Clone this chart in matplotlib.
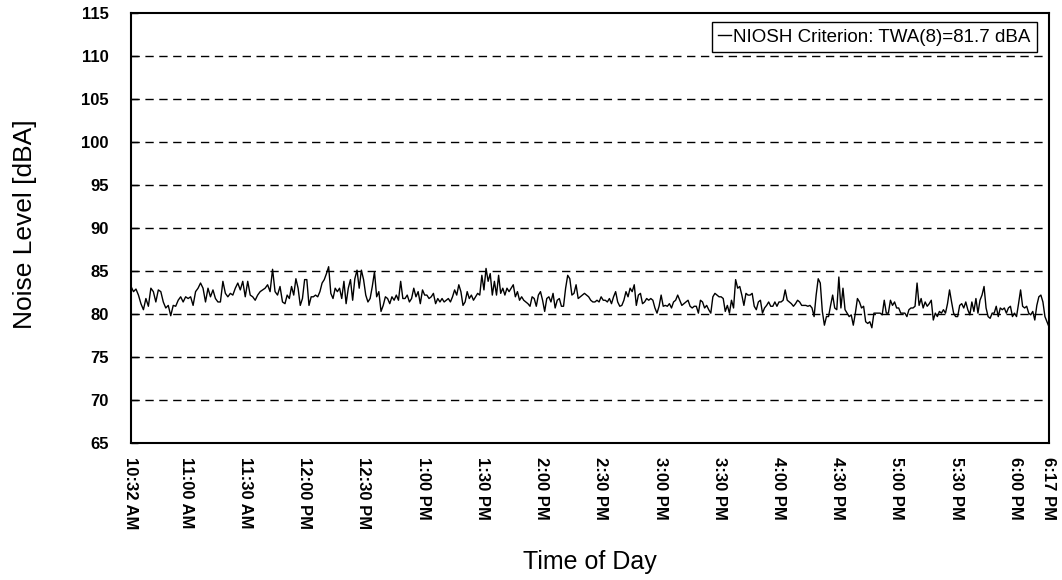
import numpy as np
import matplotlib
matplotlib.use('Agg')
from matplotlib import pyplot as plt

# noise readings (dBA) in six consecutive stretches
seg1 = [83.2, 82.6, 82.9, 82.2, 81.2, 80.5, 81.8, 80.9, 83.0, 82.6, 81.4, 82.8, 82.6, 81.4, 80.7,
        81.0, 79.8, 81.0, 80.9, 81.6, 82.0, 81.4, 82.0, 81.8, 82.0, 81.0, 82.6, 83.0, 83.6, 83.0,
        81.4, 83.0, 82.0, 82.8, 81.8, 81.4, 81.4, 83.8, 82.4, 82.0, 82.4, 82.2, 83.0, 83.6, 82.8,
        83.8, 82.0, 83.8, 82.2, 82.0, 81.6, 82.2, 82.6, 82.8, 83.0, 83.4, 82.6, 85.2, 82.6, 82.2,
        83.2, 81.4]
seg2 = [81.2, 82.2, 81.8, 83.2, 82.2, 84.1, 83.0, 81.0, 81.8, 84.0, 84.0, 81.0, 82.0, 82.0, 82.2,
        82.0, 82.6, 83.6, 84.0, 84.7, 85.5, 82.4, 81.8, 83.0, 82.6, 83.0, 81.8, 83.8, 81.2, 83.0,
        84.0, 81.6, 84.1, 85.1, 83.0, 85.1, 84.0, 82.2, 81.4, 81.8, 83.2, 84.9, 82.0, 82.6, 80.3,
        81.0, 82.0, 81.8, 81.2, 82.0, 81.6, 82.2, 81.6, 83.8, 81.8, 81.8, 82.2, 81.4, 81.8, 83.0,
        82.0, 82.6, 81.2, 82.8, 82.2, 82.2, 81.8, 82.0, 82.4, 81.2, 81.8]
seg3 = [81.4, 81.8, 81.4, 81.6, 81.8, 81.4, 82.0, 82.8, 82.2, 83.4, 82.6, 81.0, 81.4, 82.6, 81.8,
        82.2, 81.6, 82.0, 82.4, 82.2, 84.5, 82.8, 85.3, 83.8, 84.7, 82.2, 83.8, 82.2, 84.5, 82.4,
        83.0, 82.2, 83.0, 82.6, 83.0, 83.4, 82.0, 82.6, 81.6, 82.0, 81.6, 81.4, 81.2, 80.9, 82.0,
        81.8, 80.9, 82.2, 82.6, 81.6, 80.3, 81.8, 82.0, 81.4, 82.4, 80.7, 81.6, 81.8, 80.9, 80.9,
        83.0, 84.5, 84.1, 82.2, 82.4, 83.4, 81.8, 82.0, 82.2, 82.4, 82.2, 82.0, 81.6, 81.4]
seg4 = [81.4, 81.6, 81.4, 82.0, 81.6, 81.6, 81.4, 81.8, 81.2, 82.0, 82.6, 81.4, 80.9, 81.0, 81.6,
        82.6, 82.0, 83.0, 82.6, 83.4, 81.0, 82.2, 82.4, 81.2, 81.4, 81.8, 81.6, 81.8, 81.6, 80.7,
        80.1, 80.9, 82.2, 80.9, 81.0, 80.9, 81.2, 80.7, 81.4, 81.6, 82.2, 81.6, 81.0, 81.2, 81.4,
        81.6, 80.9, 80.7, 80.9, 80.9, 80.1, 81.6, 81.4, 80.7, 81.0, 80.5, 80.1, 82.0, 82.4, 82.2,
        82.0, 82.0, 81.8, 80.3, 81.0, 80.1, 81.6, 80.7, 84.0, 83.0, 83.2, 82.2, 81.0, 82.4, 82.2]
seg5 = [82.2, 82.4, 80.9, 80.5, 81.4, 81.6, 80.1, 80.7, 81.0, 81.4, 80.9, 80.9, 81.4, 80.9, 81.4,
        81.4, 81.6, 82.8, 81.6, 81.4, 81.2, 80.9, 81.2, 81.6, 81.4, 81.0, 81.0, 81.0, 80.9, 81.0,
        80.7, 79.7, 82.2, 84.1, 83.6, 80.3, 78.7, 79.7, 79.7, 81.0, 82.2, 80.7, 80.5, 84.3, 80.7,
        83.0, 80.5, 80.1, 79.7, 79.9, 78.7, 80.1, 81.8, 81.4, 80.7, 80.9, 79.1, 78.9, 79.1, 78.4,
        80.1, 80.1, 80.1, 80.1, 79.9, 81.6, 80.1, 80.1, 81.6, 81.0, 81.4, 80.7, 80.7, 80.1, 80.1]
seg6 = [80.1, 79.7, 80.5, 80.7, 80.7, 80.9, 83.6, 81.0, 81.8, 80.7, 81.4, 80.9, 81.2, 81.6, 79.3,
        80.1, 79.7, 80.3, 80.1, 80.5, 80.1, 81.2, 82.8, 81.4, 80.1, 79.7, 79.7, 81.0, 81.2, 80.7,
        81.4, 80.5, 79.9, 81.4, 80.3, 81.8, 80.1, 81.6, 82.2, 83.2, 80.7, 79.7, 79.5, 80.1, 80.1,
        80.9, 79.7, 80.7, 80.5, 80.7, 80.1, 80.7, 80.9, 79.7, 80.1, 79.7, 81.2, 82.8, 80.9, 80.7,
        80.9, 80.1, 79.9, 80.3, 79.3, 81.0, 82.0, 82.2, 81.4, 79.7, 79.1, 78.5]
segments = [seg1, seg2, seg3, seg4, seg5, seg6]

# clock time (minutes after midnight) where each stretch begins, plus the end of the record
seg_edges = [632, 710, 788.5, 867, 945.6, 1024, 1097]

tick_times = [632, 660, 690, 720, 750, 780, 810, 840, 870, 900, 930, 960, 990, 1020, 1050, 1080, 1097]
tick_labels = ['10:32 AM', '11:00 AM', '11:30 AM', '12:00 PM', '12:30 PM', '1:00 PM', '1:30 PM',
               '2:00 PM', '2:30 PM', '3:00 PM', '3:30 PM', '4:00 PM', '4:30 PM', '5:00 PM',
               '5:30 PM', '6:00 PM', '6:17 PM']
y_ticks = list(range(65, 116, 5))

times = []
levels = []
for i, seg in enumerate(segments):
    last = i == len(segments) - 1
    times.extend(np.linspace(seg_edges[i], seg_edges[i + 1], len(seg), endpoint=last))
    levels.extend(seg)

plt.rcParams['font.family'] = ['Liberation Sans', 'DejaVu Sans']

fig = plt.figure(figsize=(10.62, 5.8), dpi=100)
ax = fig.add_axes([131 / 1062, 1 - 443 / 580, (1049 - 131) / 1062, (443 - 13) / 580])

ax.plot(times, levels, color='black', lw=1.0, label='NIOSH Criterion: TWA(8)=81.7 dBA')

ax.set_xlim(632, 1097)
ax.set_ylim(65, 115)
ax.set_yticks(y_ticks)
ax.set_xticks(tick_times)
ax.set_xticklabels(tick_labels, rotation=270, fontweight='bold', fontsize=12, va='top', ha='center')
ax.tick_params(axis='x', length=0, pad=10)
ax.tick_params(axis='y', direction='in', length=5, width=1, pad=16, labelsize=12)
for lbl in ax.get_yticklabels():
    lbl.set_fontweight('bold')

for y in y_ticks[1:-1]:
    ax.axhline(y, color='black', lw=1, dashes=(6, 4), zorder=0)

for s in ax.spines.values():
    s.set_linewidth(1.5)
    s.set_color('black')

fig.text(25 / 1062, 1 - 224 / 580, 'Noise Level [dBA]', rotation=90, fontsize=19,
         ha='center', va='center')
fig.text(590 / 1062, 1 - 562 / 580, 'Time of Day', fontsize=18, ha='center', va='center')

leg = ax.legend(loc='upper right', bbox_to_anchor=(1037 / 1062, 1 - 22 / 580),
                bbox_transform=fig.transFigure, borderaxespad=0, fontsize=13.5,
                handlelength=0.7, handletextpad=0.1, fancybox=False, framealpha=1,
                borderpad=0.35)
leg.get_frame().set_edgecolor('black')
leg.get_frame().set_linewidth(1)

fig.savefig('out.png', dpi=100)
